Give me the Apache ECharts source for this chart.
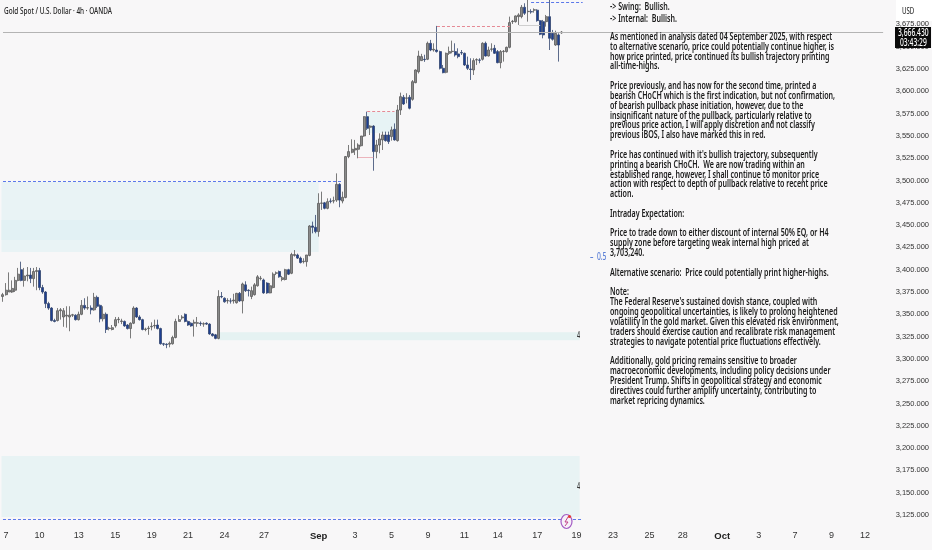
<!DOCTYPE html>
<html><head><meta charset="utf-8">
<style>html,body{margin:0;padding:0;background:#f8f7f8}#c{width:932px;height:550px}</style>
<script src="https://cdn.jsdelivr.net/npm/echarts@6/dist/echarts.min.js"></script>
</head><body><div id="c"></div>
<script>
const opens=[3370,3372,3375,3375,3377,3388,3400,3388,3393,3394,3390,3398,3399,3380,3375,3362,3357,3343,3343,3354,3347,3348,3347,3349,3349,3344,3350,3360,3357,3357,3355,3369,3360,3345,3350,3334,3333,3337,3344,3342,3342,3338,3334,3340,3357,3347,3344,3333,3334,3336,3337,3338,3334,3317,3316.5,3316.5,3317,3324,3342,3346,3350,3342,3340,3340,3340,3340,3339,3340,3339,3328,3327,3323,3370,3368,3365,3365,3365,3363,3373.5,3365,3383,3377,3370,3372,3382,3390,3388.5,3385,3374,3380,3396,3398,3389,3389,3400,3396,
3416,3416.5,3413,3409,3409,3416,3449,3447.5,3442.7,3474.4,3475,3468.8,3477,3477,3478,3495.7,3477,3481,3526.8,3531.6,3534.2,3535,3539,3549.9,3571.6,3559.6,3561,3532.4,3539.8,3545.5,3551,3551,3549.2,3557.4,3544.7,3579,3593.3,3592.2,3593.3,3591,3609.7,3622,3634.4,3635.9,3635.9,3653.8,3646.3,3646.3,3644.5,3625.8,3621.3,3642.6,3644.5,3644.5,3641.9,3643.4,3642.6,3629.5,3625,3623.9,3635.1,3635.1,3635.9,3653.8,3639.6,3647.1,3648.2,3644.5,3632.1,3644.5,3644.5,3649.3,3678.1,3678.1,3683.7,3683.7,3694.2,3689.3,3689.3,3691,3691,3679.2,3678.1,3678.1,3683.7,3665,3651.9,3663.2,3665.5];
const closes=[3372,3377,3377,3379,3388,3395,3388,3393,3394,3390,3398,3399,3380,3375,3362,3357,3343,3342,3354,3355,3354,3349,3349,3349.5,3344,3350,3360,3357,3357.5,3355,3369,3359,3345,3350,3333,3334.5,3335,3344,3344.5,3342.5,3337,3334,3340,3357,3347,3344,3333,3333.5,3334.5,3336.5,3337.5,3334,3317,3316.5,3316,3317.5,3324,3342,3344,3347,3342,3338,3337,3341,3340.5,3339.5,3339.5,3339,3328,3326,3323,3370,3369.5,3364,3365.5,3364.8,3366,3373.5,3365,3384,3376.5,3376.5,3376.5,3383,3392,3390.5,3374,3374,3382,3395,3396.5,3392,3391,3400,3395,3417,
3417,3413,3408,3409.5,3416.5,3449,3447.5,3442.7,3474.4,3474.8,3468.8,3476.3,3476.6,3477.4,3495.7,3478,3481.2,3526.8,3532.4,3535,3536,3539.8,3549.9,3571.6,3558.5,3561,3532.4,3539.8,3546.6,3551,3544.7,3543.6,3556.7,3545.5,3579,3594,3585.8,3592.6,3581,3610.8,3623.9,3639.5,3638.9,3635.5,3653.8,3646.3,3647.1,3644.5,3625.8,3620.9,3642.6,3644.5,3644.9,3640.8,3638.9,3643,3629.5,3625.8,3624.5,3634.4,3635.5,3634.8,3653.8,3639.6,3646.3,3647.5,3642.6,3632.1,3644.5,3644.9,3649.3,3677,3678.5,3684.5,3685.6,3694.2,3687.5,3689.7,3689,3691.4,3679.2,3663.9,3663.2,3683.7,3659.4,3658.3,3665,3651.9,3666.43];
const lows=[3364,3371,3375,3374,3375,3387,3387,3381,3387,3385,3381,3377,3377,3373,3357,3355,3342,3341,3342,3344,3336,3335,3331,3347,3343,3343,3349,3355,3355,3350,3354,3357,3341,3342,3329,3332,3332,3335,3340,3339,3336,3333,3323,3339,3346,3343,3332,3331,3327,3332,3334,3333,3316,3314.5,3312,3313,3316,3323,3342,3344,3341,3337,3336,3325,3336,3337,3336,3338,3327,3325,3322,3322,3368,3363,3362,3362,3362,3362,3364,3351,3375,3370,3367,3371,3381,3388,3373,3373,3373.5,3379,3394,3391,3387,3388,3394,3395,
3414.7,3412,3407,3407,3403.4,3415,3440.8,3440.8,3437,3467,3467.7,3467.7,3474.4,3474.4,3476,3470,3474.4,3480,3525,3530.5,3528.6,3524.9,3538,3549,3556.7,3551,3511,3524.9,3530.5,3534.2,3543.6,3541,3544.7,3544.7,3543.6,3573.5,3584.7,3586.5,3579.8,3589.5,3609,3620,3634,3633,3635,3645,3644.5,3643.4,3624.5,3620.2,3620.2,3640.8,3642.6,3638.9,3637,3640.8,3628.5,3623.9,3612.7,3618.3,3629.5,3631.4,3634.5,3638.9,3639,3644.5,3641.9,3631.4,3625.8,3633.3,3643.4,3648.2,3675.5,3677,3674.4,3681.8,3685.6,3678.1,3687,3688.2,3678,3663,3659.4,3672.5,3646.3,3656.8,3651,3633.3,3664.5];
const highs=[3374,3385,3397,3388,3392,3402,3409,3402,3403,3402,3402,3403,3402,3383,3376,3364,3358,3345,3357,3357,3357,3359,3359,3350.5,3350,3353,3366,3368,3370,3360,3374,3371,3361,3359,3352,3336,3338,3347,3347,3345,3343,3339,3341,3359,3358,3349,3345,3335,3337,3341,3344,3344,3335,3318,3317.5,3319.5,3326,3345,3349,3349,3351,3343,3341,3344,3347,3342,3341,3341,3340,3329,3328,3377,3375,3369,3368,3368,3373,3374,3375,3385.5,3387,3378,3381,3385,3394,3393,3390,3386,3385,3397,3398,3399,3393,3401,3401,3419,
3422,3418,3414.7,3412.8,3416.5,3450,3453.9,3461.4,3485.7,3487.5,3476,3480,3480,3481.9,3508,3497,3487.5,3527.5,3539.8,3546.2,3545.5,3541.7,3549.9,3572,3577.2,3562,3562,3545.5,3552.9,3554.8,3554.8,3554.8,3560.4,3564,3584.7,3598.5,3595.9,3597.8,3595.9,3612.6,3624.6,3645.5,3642,3641,3655.7,3657.6,3653.8,3673.3,3645.5,3629.5,3643.4,3650.1,3656.8,3653.8,3648.2,3646.3,3643.4,3638.9,3637,3637,3637,3637,3655,3655.7,3650.1,3653.8,3652,3646.3,3646.3,3646.3,3650.1,3683.7,3680,3685,3687.5,3696.8,3698.7,3705,3692,3693,3692,3680,3680,3685.6,3705,3668.8,3668,3665,3667.5];

const tickIndex=[1,12,25,37,49,61,73,86,104,116,128,140,152,163,176,189,201,213,224,237,249,261,273,284];
const tickLabels=['7','10','13','15','19','21','24','27','Sep','3','5','9','11','14','17','19','23','25','28','Oct','3','7','9','12'];
const slotCount=291;
const lastPrice=3666.43;

const zones=[[Infinity,104,3498.3,3419.8,'#e9f3f5'],[Infinity,104,3455.7,3433.3,'#e2f1f4'],[71,190,3330,3321,'#e5f2f2'],[Infinity,190,3191.2,3122.8,'#e8f3f4'],[120,130,3576.8,3553.3,'#e7f3f5']];
const levels=[[0,112,3499.4,'#5b78ea','dashed'],[0,191,3120.5,'#5b78ea','dashed'],[174,191,3699.8,'#5b78ea','dashed'],[120,129,3577.9,'#e58a95','dashed'],[143,167,3673.2,'#e58a95','dashed'],[117,122,3526.3,'#ecb4bc','solid'],[170,177,3674,'#cfcfcf','solid'],[0,290,lastPrice,'#b4b4b4','solid']];

const headerLines=['-> Swing:  Bullish.','-> Internal:  Bullish.'];
const noteLines=[
'As mentioned in analysis dated 04 September 2025, with respect',
'to alternative scenario, price could potentially continue higher, is',
'how price printed, price continued its bullish trajectory printing',
'all-time-highs.','',
'Price previously, and has now for the second time, printed a',
'bearish CHoCH which is the first indication, but not confirmation,',
'of bearish pullback phase initiation, however, due to the',
'insignificant nature of the pullback, particularly relative to',
'previous price action, I will apply discretion and not classify',
'previous iBOS, I also have marked this in red.','',
"Price has continued with it's bullish trajectory, subsequently",
'printing a bearish CHoCH.  We are now trading within an',
'established range, however, I shall continue to monitor price',
'action with respect to depth of pullback relative to recent price',
'action.','',
'Intraday Expectation:','',
'Price to trade down to either discount of internal 50% EQ, or H4',
'supply zone before targeting weak internal high priced at',
'3,703,240.','',
'Alternative scenario:  Price could potentially print higher-highs.','',
'Note:',
"The Federal Reserve's sustained dovish stance, coupled with",
'ongoing geopolitical uncertainties, is likely to prolong heightened',
'volatility in the gold market. Given this elevated risk environment,',
'traders should exercise caution and recalibrate risk management',
'strategies to navigate potential price fluctuations effectively.','',
'Additionally, gold pricing remains sensitive to broader',
'macroeconomic developments, including policy decisions under',
'President Trump. Shifts in geopolitical strategy and economic',
'directives could further amplify uncertainty, contributing to',
'market repricing dynamics.'];

const categories=Array.from({length:slotCount},()=>'');
tickIndex.forEach((t,k)=>{categories[t]=tickLabels[k];});
const candleData=opens.map((o,k)=>[o,closes[k],lows[k],highs[k]]);
const narrow='"Liberation Sans Narrow","Liberation Sans",sans-serif';
const sq=0.675;
function txt(x,y,text,size,fill,weight){
  return {type:'text',x:x,y:y,scaleX:sq,z:20,silent:true,style:{text:text,fill:fill||'#1a1a1a',font:(weight||'500')+' '+size+'px "Noto Sans"',textAlign:'left',textVerticalAlign:'middle'}};
}
const chart=echarts.init(document.getElementById('c'),null,{renderer:'canvas'});
chart.setOption({
  animation:false,
  backgroundColor:'#f8f7f8',
  grid:{left:1,right:42,top:2.1,bottom:12.7,containLabel:false},
  xAxis:{type:'category',data:categories,boundaryGap:true,axisLine:{show:false},axisTick:{show:false},splitLine:{show:false},
    axisLabel:{interval:0,margin:-6,hideOverlap:false,color:'#333',fontFamily:narrow,fontSize:9,
      formatter:v=>(v==='Sep'||v==='Oct')?'{b|'+v+'}':v,rich:{b:{fontFamily:narrow,fontSize:9.5,fontWeight:'bold',color:'#222'}}}},
  yAxis:{type:'value',position:'right',min:3100,max:3700,interval:25,axisLine:{show:false},axisTick:{show:false},splitLine:{show:false},
    axisLabel:{margin:11,color:'#333',fontFamily:narrow,fontSize:7.5,
      formatter:v=>{if(v<3125||v>3675)return '';const s=v.toFixed(3);return s[0]+','+s.slice(1);}}},
  series:[{type:'candlestick',data:candleData,barWidth:2.5,clip:false,
    itemStyle:{color:'#8a8a8a',color0:'#1d3f92',borderColor:'#5a5a5a',borderColor0:'#34466f',borderWidth:0.8},
    markArea:{silent:true,data:zones.map(z=>[{coord:[z[0],z[2]],itemStyle:{color:z[4]}},{coord:[z[1],z[3]]}])},
    markLine:{silent:true,symbol:'none',animation:false,label:{show:false},
      data:levels.map(l=>[{coord:[l[0],l[2]],lineStyle:{color:l[3],type:l[4]==='dashed'?[3,2]:'solid',width:1}},{coord:[l[1],l[2]]}])}
  }],
  graphic:[
    {type:'rect',shape:{x:896,y:0,width:36,height:21},style:{fill:'#fff'},z:15,silent:true},
    txt(902,11,'USD',9,'#333'),
    {type:'rect',shape:{x:895,y:27,width:36,height:21},style:{fill:'#0b0b0b'},z:15,silent:true},
    txt(898,33,'3,666.430',10,'#fff'),
    txt(900,43,'03:43:29',10,'#fff'),
    txt(4,11,'Gold Spot / U.S. Dollar · 4h · OANDA',9.5,'#222'),
    txt(610,7,headerLines[0],10.5,'#1a1a1a','600'),
    txt(610,19,headerLines[1],10.5,'#1a1a1a','600'),
    {type:'text',x:610,y:32,scaleX:sq,z:20,silent:true,style:{text:noteLines.join('\n'),fill:'#1a1a1a',font:'600 10.5px "Noto Sans"',lineHeight:9.83,textVerticalAlign:'top'}},
    txt(590,257,'–  0.5',10,'#5b7fd6'),
    txt(577,336,'4',8,'#333'),
    txt(577,487,'4',8,'#333'),
    {type:'ellipse',shape:{cx:566.5,cy:521.5,rx:5.5,ry:7},style:{fill:'#f6f0f8',stroke:'#a45cc4',lineWidth:1.2},z:16,silent:true},
    {type:'polyline',shape:{points:[[568,517],[565,522],[568,522],[565,526]]},style:{fill:'none',stroke:'#c0408a',lineWidth:1},z:17,silent:true},
    {type:'circle',shape:{cx:569.5,cy:516.5,r:1.6},style:{fill:'#e53935'},z:18,silent:true}
  ]
});
</script></body></html>
